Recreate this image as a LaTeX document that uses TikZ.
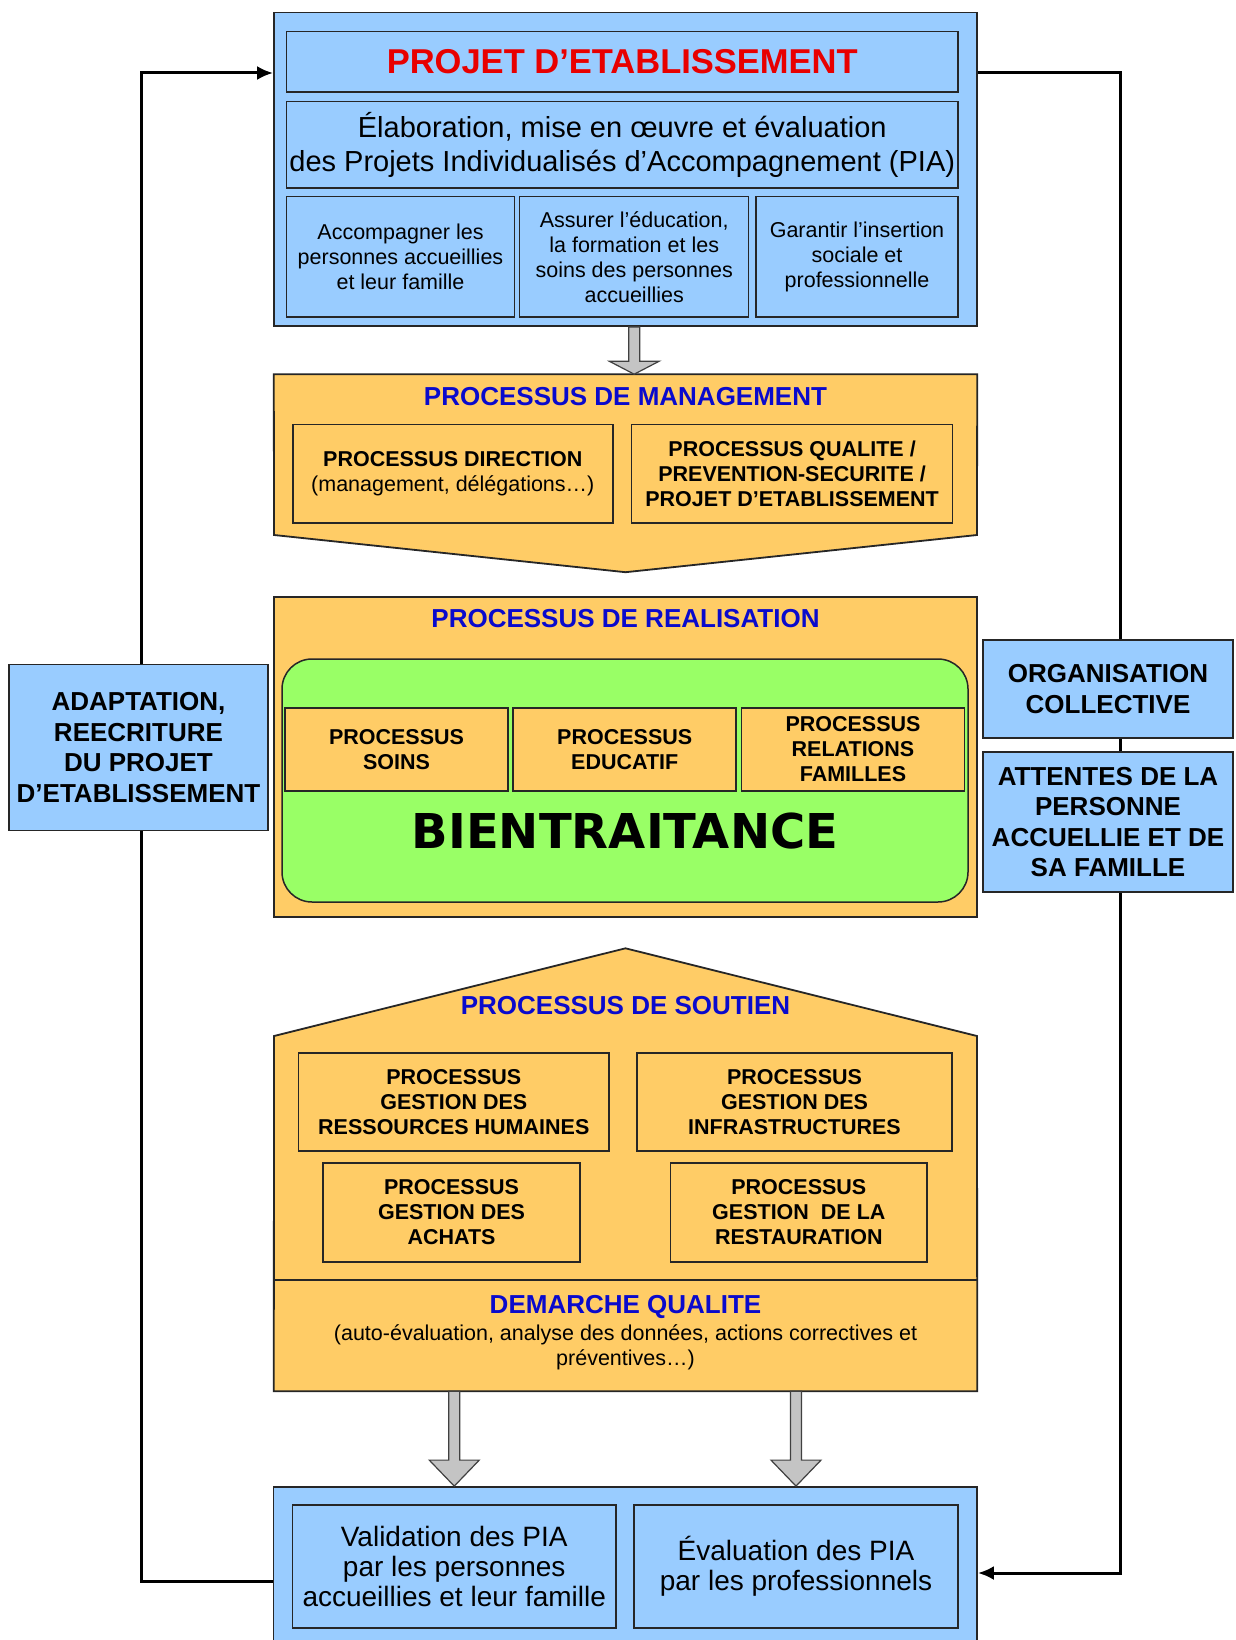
\documentclass[tikz,border=0pt]{standalone}
\usepackage{fontspec}
\setmainfont{Liberation Sans}
\newfontfamily\bienfont{DejaVu Sans}
\usetikzlibrary{calc,arrows.meta}
\definecolor{pblue}{HTML}{99CCFF}
\definecolor{porange}{HTML}{FFCC66}
\definecolor{pgreen}{HTML}{99FF66}
\definecolor{ptitle}{HTML}{E80000}
\definecolor{phead}{HTML}{0A0ACC}
\definecolor{pgray}{HTML}{C4C4C4}
\newcommand\fsS{\fontsize{21.5}{25}\selectfont}
\newcommand\fsM{\fontsize{26}{30.5}\selectfont}
\newcommand\fsL{\fontsize{28}{30}\selectfont}
\newcommand\fsP{\fontsize{29}{33.5}\selectfont}
\newcommand\fatarrow[3]{%
  \draw[fatarr] let \p1=(#1), \p2=(#2) in
   ({\x1-5.5pt},\y1) -- ({\x1-5.5pt},{\y2+#3}) -- ({\x1-25pt},{\y2+#3}) -- (\x2,\y2)
   -- ({\x1+25pt},{\y2+#3}) -- ({\x1+5.5pt},{\y2+#3}) -- ({\x1+5.5pt},\y1) -- cycle;}
\begin{document}
\begin{tikzpicture}[x=1pt,y=-1pt,
  outer/.style={draw=black!85,line width=1.8pt,inner sep=0pt},
  bluebox/.style={draw=black!85,line width=1.5pt,fill=pblue,inner sep=0pt,align=center},
  orbox/.style={draw=black!85,line width=1.5pt,fill=porange,inner sep=0pt,align=center},
  area/.style={inner sep=0pt,minimum width=#1},
  head/.style={text=phead,font=\fsM\bfseries,inner sep=0pt},
  fatarr/.style={fill=pgray,draw=black!75,line width=1.2pt,line join=miter},
  fb/.style={line width=3pt,draw=black,-{Latex[length=16pt,width=14pt]}}]
\useasboundingbox (0,0) rectangle (1235,1640);
\clip (0,0) rectangle (1235,1640);
\fill[white] (0,0) rectangle (1235,1640);

% ---------- top block ----------
\node[outer,fill=pblue,minimum width=703,minimum height=313.5] (top) at (625.5,169.25) {};
\node[bluebox,minimum width=671.5,minimum height=60.6,text=ptitle,
      font=\fontsize{34.5}{40}\selectfont\bfseries] (ttl) at (622.25,61.7)
  {PROJET D’ETABLISSEMENT};
\node[bluebox,minimum width=671.5,minimum height=86.6,font=\fsP] (pia) at (622.25,144.7)
  {Élaboration, mise en œuvre et évaluation\\des Projets Individualisés d’Accompagnement (PIA)};
\node[bluebox,minimum width=228,minimum height=120.4,font=\fsS] (b1) at (400.5,256.8)
  {Accompagner les\\personnes accueillies\\et leur famille};
\node[bluebox,minimum width=229,minimum height=120.4,font=\fsS] (b2) at (634.2,256.8)
  {Assurer l’éducation,\\la formation et les\\soins des personnes\\accueillies};
\node[bluebox,minimum width=202,minimum height=120.4,font=\fsS] (b3) at (857,256.8)
  {Garantir l’insertion\\sociale et\\professionnelle};

% ---------- management ----------
\node[area=703,minimum height=197.6] (mgmt) at (625.5,473.2) {};
\draw[outer,fill=porange] (mgmt.north west) -- (mgmt.north east) -- (977,535)
   -- (mgmt.south) -- (274,535) -- cycle;
\node[head] (mgt) at (625.5,397) {PROCESSUS DE MANAGEMENT};
\node[orbox,minimum width=320,minimum height=98.4,font=\fsS] (dir) at (452.8,473.8)
  {\textbf{PROCESSUS DIRECTION}\\(management, délégations…)};
\node[orbox,minimum width=321,minimum height=98.4,font=\fsS\bfseries] (qual) at (792.1,473.8)
  {PROCESSUS QUALITE /\\PREVENTION-SECURITE /\\PROJET D’ETABLISSEMENT};
\fatarrow{b2.center |- top.south}{b2.center |- mgmt.north}{13pt}

% ---------- realisation ----------
\node[outer,fill=porange,minimum width=703,minimum height=320] (real) at (625.5,757) {};
\node[head] (rt) at (625.5,619) {PROCESSUS DE REALISATION};
\node[draw=black!85,line width=1.5pt,fill=pgreen,rounded corners=30pt,
      minimum width=686,minimum height=243,inner sep=0pt] (green) at (625,780.5) {};
\node[orbox,minimum width=223,minimum height=83,font=\fsS\bfseries] (soins) at (396.5,749.3)
  {PROCESSUS\\SOINS};
\node[orbox,minimum width=223,minimum height=83,font=\fsS\bfseries] (educ) at (624.7,749.3)
  {PROCESSUS\\EDUCATIF};
\node[orbox,minimum width=223,minimum height=83,font=\fsS\bfseries] (relf) at (853,749.3)
  {PROCESSUS\\RELATIONS\\FAMILLES};
\node[inner sep=0pt,font=\bienfont\bfseries\fontsize{48}{50}\selectfont] (bien) at (625,831)
  {BIENTRAITANCE};

% ---------- soutien ----------
\node[area=703,minimum height=442.5] (sout) at (625.5,1169.75) {};
\draw[outer,fill=porange] (sout.north) -- (977,1036) -- (sout.south east)
   -- (sout.south west) -- (274,1036) -- cycle;
\draw[line width=1.5pt,draw=black!85] (274,1280) -- (977,1280);
\node[head] (st) at (625.5,1006) {PROCESSUS DE SOUTIEN};
\node[orbox,minimum width=310.4,minimum height=98.3,font=\fsS\bfseries] (rh) at (453.8,1101.9)
  {PROCESSUS\\GESTION DES\\RESSOURCES HUMAINES};
\node[orbox,minimum width=315,minimum height=98.3,font=\fsS\bfseries] (infra) at (794.5,1101.9)
  {PROCESSUS\\GESTION DES\\INFRASTRUCTURES};
\node[orbox,minimum width=257,minimum height=98.7,font=\fsS\bfseries] (ach) at (451.5,1212.4)
  {PROCESSUS\\GESTION DES\\ACHATS};
\node[orbox,minimum width=256.4,minimum height=98.7,font=\fsS\bfseries] (rest) at (798.8,1212.4)
  {PROCESSUS\\GESTION~~DE LA\\RESTAURATION};
\node[head] (dq) at (625.5,1307) {DEMARCHE QUALITE};
\node[inner sep=0pt,align=center,font=\fsS] (dqt) at (625.5,1347.5)
  {(auto-évaluation, analyse des données, actions correctives et\\préventives…)};

% ---------- bottom ----------
\node[outer,fill=pblue,minimum width=703.5,minimum height=160] (bot) at (625.25,1567) {};
\node[bluebox,minimum width=323.5,minimum height=123.3,font=\fsL] (val) at (454.25,1566.4)
  {Validation des PIA\\par les personnes\\accueillies et leur famille};
\node[bluebox,minimum width=324,minimum height=123.3,font=\fsL] (eval) at (796,1566.4)
  {Évaluation des PIA\\par les professionnels};
\fatarrow{val.center |- sout.south}{val.center |- bot.north}{26pt}
\fatarrow{eval.center |- sout.south}{eval.center |- bot.north}{26pt}

% ---------- feedback loops ----------
\coordinate (cL1) at (141.5,1581);
\coordinate (cL2) at (141.5,73);
\coordinate (cR1) at (1120,73);
\coordinate (cR2) at (1120,1573);
\draw[fb] (bot.west |- cL1) -- (cL1) -- (cL2) -- (top.west |- cL2);
\draw[fb] (top.east |- cR1) -- (cR1) -- (cR2) -- (bot.east |- cR2);

% ---------- side boxes ----------
\node[bluebox,minimum width=259,minimum height=166,font=\fsM\bfseries] (adapt) at (138.5,747.3)
  {ADAPTATION,\\REECRITURE\\DU PROJET\\D’ETABLISSEMENT};
\node[bluebox,minimum width=250,minimum height=98,font=\fsM\bfseries] (org) at (1108,689)
  {ORGANISATION\\COLLECTIVE};
\node[bluebox,minimum width=250,minimum height=140,font=\fsM\bfseries] (att) at (1108,822)
  {ATTENTES DE LA\\PERSONNE\\ACCUELLIE ET DE\\SA FAMILLE};
\end{tikzpicture}
\end{document}
